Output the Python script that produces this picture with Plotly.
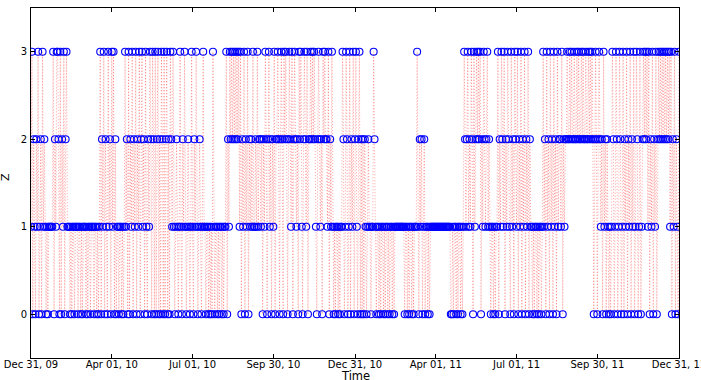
import pandas as pd
import plotly.graph_objects as go

# State sequence (daily, from Dec 31, 2009)
z_segments = [
    "1302102130120312", "10101111", "130213", "320302", "130231",
    "110101", "101110", "110101", "110101", "101110", "110101",
    "30213021031203130201", "10110101", "31203021302",
    "13021302312031021320", "3203023020320302302032",
    "13101", "21013", "10213", "10121", "01310", "21310", "12101", "31",
    "10110101031011010110101", "1302132", "323232323", "130213021302",
    "12131121312", "2120213202312021302", "232023203232023",
    "2130232120323102321302", "232323", "210232120", "3232", "2130213",
    "1010110101", "132013201", "302130231023020", "20210121", "101132101",
    "1010110101101011010", "111111111", "11011010110101", "1131021201201",
    "1010111", "1111111111111111111", "100101101011010",
    "132123121320312", "3232302", "13212312", "10110101",
    "13021321302132103120321302", "1302130213021", "1010110101101",
    "3120312031203120312", "213021", "2232232322322323223232232232323",
    "20232023", "212031202", "1010", "132013201320", "130213021302",
    "13013201301", "232323", "13021302130", "23232323232323", "13021302103",
]
start_date = "2009-12-31"
end_date = "2011-12-31"

tick_dates = ["2009-12-31", "2010-04-01", "2010-07-01", "2010-09-30", "2010-12-31",
              "2011-04-01", "2011-07-01", "2011-09-30", "2011-12-31"]
tick_labels = ["Dec 31, 09", "Apr 01, 10", "Jul 01, 10", "Sep 30, 10", "Dec 31, 10",
               "Apr 01, 11", "Jul 01, 11", "Sep 30, 11", "Dec 31, 11"]
y_ticks = [0, 1, 2, 3]

z = [int(c) for c in "".join(z_segments)]
dates = pd.date_range(start_date, periods=len(z), freq="D")

fig = go.Figure()
fig.add_trace(go.Scatter(
    x=dates, y=z, mode="lines+markers",
    line=dict(color="rgba(255,0,0,0.75)", width=0.5, dash="1px,2px"),
    marker=dict(symbol="circle-open", size=7, color="rgb(0,0,255)",
                line=dict(width=1.1, color="rgb(0,0,255)")),
    showlegend=False, hoverinfo="skip",
))

font = dict(family="DejaVu Sans, Arial, sans-serif", size=10, color="black")
fig.update_layout(
    width=701, height=380,
    margin=dict(l=31, r=22, t=8, b=22, pad=0),
    paper_bgcolor="white", plot_bgcolor="white",
    font=font,
    xaxis=dict(
        range=[start_date, end_date], type="date", automargin=False,
        tickmode="array", tickvals=tick_dates, ticktext=tick_labels,
        ticks="inside", ticklen=4, tickcolor="black", tickwidth=1,
        ticklabeloverflow="allow", ticklabelstandoff=-3,
        showline=True, linecolor="black", linewidth=1, mirror="ticks",
        showgrid=False, zeroline=False, tickfont=font,
    ),
    yaxis=dict(
        range=[-0.5, 3.5], tickmode="array", tickvals=y_ticks, automargin=False,
        ticktext=[str(v) for v in y_ticks], ticklabelstandoff=1,
        ticks="inside", ticklen=4, tickcolor="black", tickwidth=1,
        showline=True, linecolor="black", linewidth=1, mirror="ticks",
        showgrid=False, zeroline=False, tickfont=font,
    ),
    annotations=[
        dict(text="Time", xref="paper", yref="paper", x=0.5, y=0,
             xanchor="center", yanchor="middle", yshift=-17.5, showarrow=False,
             borderpad=0,
             font=dict(family="DejaVu Sans, Arial, sans-serif", size=11.5, color="black")),
        dict(text="Z", xref="paper", yref="paper", x=0, y=0.5,
             xanchor="center", yanchor="middle", xshift=-26, yshift=6, showarrow=False,
             textangle=-90,
             font=dict(family="DejaVu Sans, Arial, sans-serif", size=11, color="black")),
    ],
)

fig.write_html("out.html")
